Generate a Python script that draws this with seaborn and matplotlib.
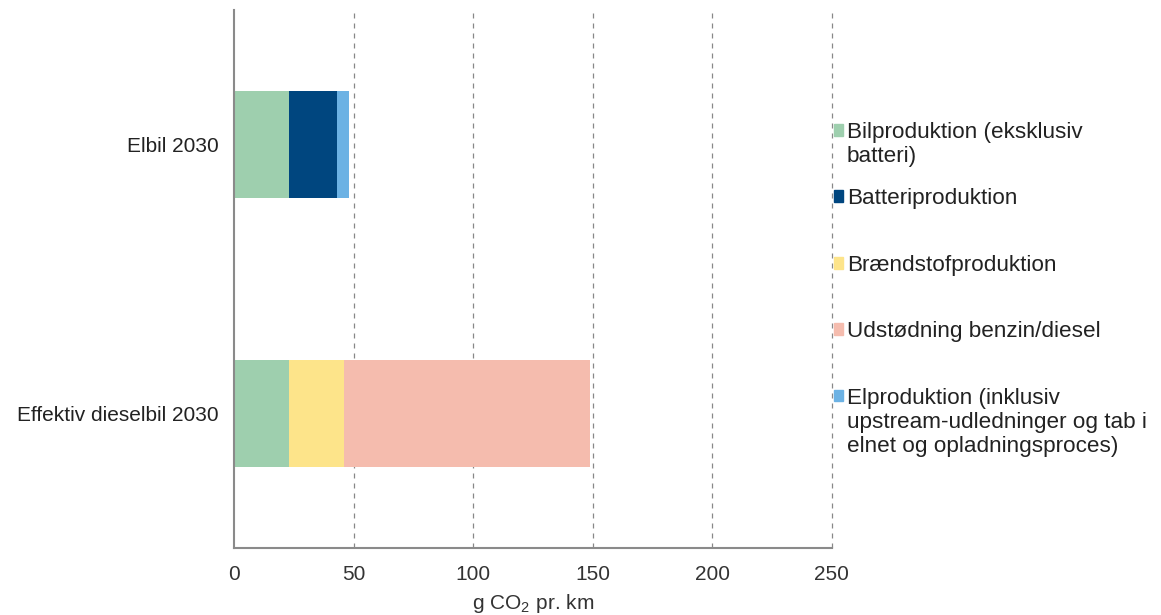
import numpy as np
import pandas as pd
import matplotlib
matplotlib.use("Agg")
import matplotlib.pyplot as plt
import seaborn as sns

# data (g CO2 per km)
vehicles = ["Elbil 2030", "Effektiv dieselbil 2030"]
components = [
    "Bilproduktion (eksklusiv\nbatteri)",
    "Batteriproduktion",
    "Brændstofproduktion",
    "Udstødning benzin/diesel",
    "Elproduktion (inklusiv\nupstream-udledninger og tab i\nelnet og opladningsproces)",
]
bilproduktion = [23, 23]
batteriproduktion = [20, 0]
braendstof = [0, 23]
udstoedning = [0, 103]
elproduktion = [5, 0]
colors = ["#9ECFAE", "#00467F", "#FDE48A", "#F5BCAE", "#6CB2E4"]

sns.set_theme(style="white")
plt.rcParams["font.family"] = ["Liberation Sans", "DejaVu Sans"]
plt.rcParams["mathtext.fontset"] = "custom"
plt.rcParams["mathtext.rm"] = "Liberation Sans"

# stacking order along the bar (left to right)
order = [bilproduktion, batteriproduktion, braendstof, udstoedning, elproduktion]
cum = np.cumsum(np.array(order, dtype=float), axis=0)

fig = plt.figure(figsize=(11.61, 6.15), dpi=100)
ax = fig.add_axes([0.2015, 0.109, 0.515, 0.875])

# draw from the longest cumulative segment backward so shorter ones overlay
for i in reversed(range(len(order))):
    df = pd.DataFrame({"vehicle": vehicles, "value": cum[i]})
    sns.barplot(data=df, x="value", y="vehicle", color=colors[i],
                width=0.4, saturation=1, ax=ax, linewidth=0)

ax.set_xlim(0, 250)
ax.set_ylim(1.5, -0.5)
ax.set_xticks([0, 50, 100, 150, 200, 250])
ax.set_ylabel("")
ax.set_xlabel(r"g CO$_\mathrm{2}$ pr. km", fontsize=15, color="#333333", labelpad=6)
for x in [50, 100, 150, 200, 250]:
    ax.axvline(x, color="#888888", linestyle=(0, (4, 4)), linewidth=0.9,
               zorder=0, clip_on=False)

for s in ["top", "right"]:
    ax.spines[s].set_visible(False)
for s in ["left", "bottom"]:
    ax.spines[s].set_color("#8a8a8a")
    ax.spines[s].set_linewidth(1.5)

ax.tick_params(axis="x", length=3, color="#8a8a8a", labelsize=15, labelcolor="#333333", pad=9)
ax.tick_params(axis="y", length=0, labelsize=15, labelcolor="#222222", pad=11)
ax.set_yticks([-0.5, 0.5, 1.5], minor=True)
ax.tick_params(axis="y", which="minor", length=4, color="#8a8a8a", direction="out")

# legend: first line of each label in the legend, rest placed underneath
fs = 16.2
first_lines = [c.split("\n")[0] for c in components]
handles = [plt.Rectangle((0, 0), 1, 1, color=c) for c in colors]
leg = fig.legend(handles, first_lines, loc="upper left", bbox_to_anchor=(0.718, 0.802),
                 frameon=False, fontsize=fs, handlelength=0.43, handleheight=0.43,
                 handletextpad=0.15, labelspacing=2.02, borderpad=0, borderaxespad=0,
                 labelcolor="#222222")
fig.canvas.draw()
for txt, full in zip(leg.get_texts(), components):
    rest = full.split("\n")[1:]
    bb = txt.get_window_extent()
    for k, line in enumerate(rest, start=1):
        fig.text(bb.x0 / fig.bbox.width, (bb.y1 - 24 * k) / fig.bbox.height, line,
                 ha="left", va="top", fontsize=fs, color="#222222")

fig.savefig("out.png", dpi=100)
